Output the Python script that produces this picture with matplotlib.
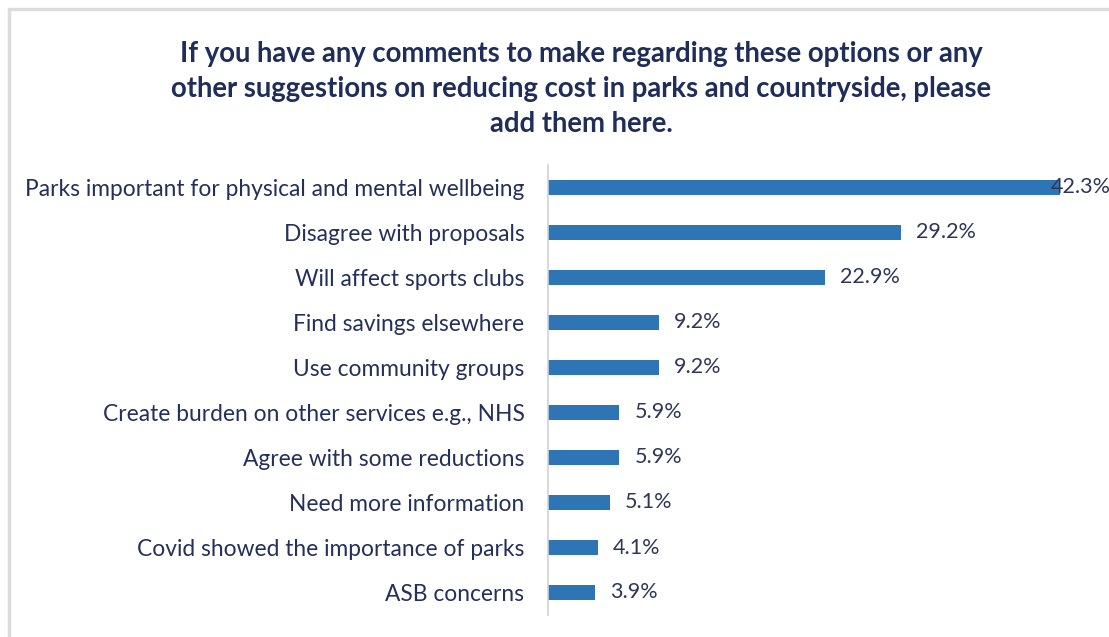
import matplotlib
matplotlib.use("Agg")
import matplotlib.pyplot as plt
from matplotlib.patches import Rectangle

categories = [
    "Parks important for physical and mental wellbeing",
    "Disagree with proposals",
    "Will affect sports clubs",
    "Find savings elsewhere",
    "Use community groups",
    "Create burden on other services e.g., NHS",
    "Agree with some reductions",
    "Need more information",
    "Covid showed the importance of parks",
    "ASB concerns",
]
values = [42.3, 29.2, 22.9, 9.2, 9.2, 5.9, 5.9, 5.1, 4.1, 3.9]
value_labels = ["42.3%", "29.2%", "22.9%", "9.2%", "9.2%", "5.9%", "5.9%", "5.1%", "4.1%", "3.9%"]
title = ("If you have any comments to make regarding these options or any\n"
         "other suggestions on reducing cost in parks and countryside, please\n"
         "add them here.")

W, H = 1109, 637
fig = plt.figure(figsize=(W / 100, H / 100), dpi=100)
fig.patch.set_facecolor("white")

# outer frame
fig.patches.append(Rectangle((9 / W, -0.05), 1.1, 1 - 9 / H + 0.05, transform=fig.transFigure,
                             fill=False, edgecolor="#DCDCDC", linewidth=2.5))

ax = fig.add_axes([548 / W, 1 - 615 / H, (1060 - 548) / W, 450 / H])
ypos = list(range(len(categories)))
ax.barh(ypos, values, height=0.33, color="#2E75B6")
ax.set_xlim(0, max(values))
ax.set_ylim(len(categories) - 0.5, -0.5)
for s in ["top", "right", "bottom"]:
    ax.spines[s].set_visible(False)
ax.spines["left"].set_color("#D0D0E0")
ax.spines["left"].set_linewidth(1.2)
ax.set_xticks([])
ax.set_yticks(ypos)
ax.set_yticklabels(categories, fontsize=16.4, color="#24305A", fontfamily="Lato")
ax.tick_params(axis="y", length=0, pad=17)

px = max(values) / (1060 - 548)
for y, v, lab in zip(ypos, values, value_labels):
    x = min(v + 15 * px, max(values) - 9 * px)
    ax.text(x, y, lab, va="center", ha="left", fontsize=15.5, color="#2F3658",
            fontfamily="Lato", clip_on=False)

fig.text(581 / W, 1 - 89 / H, title, ha="center", va="center", fontsize=19.8,
         fontweight="bold", color="#1F2D5A", fontfamily="Lato", linespacing=1.43)

fig.savefig("out.png", dpi=100)
